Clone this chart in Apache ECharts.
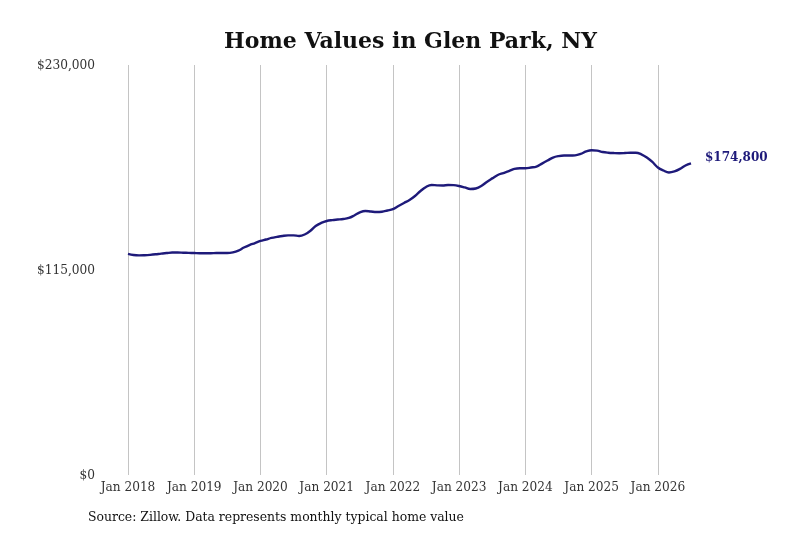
<!DOCTYPE html>
<html>
<head>
<meta charset="utf-8">
<script src="https://cdn.jsdelivr.net/npm/echarts@6/dist/echarts.min.js"></script>
<style>
html,body{margin:0;padding:0;background:#fff;}
#chart{width:800px;height:533px;}
</style>
</head>
<body>
<div id="chart"></div>
<script>
// Monthly typical home value (thousands of dollars), Jan 2018 .. Jul 2026
const years = [2018, 2019, 2020, 2021, 2022, 2023, 2024, 2025, 2026];
const values2018 = [124.0, 123.4, 123.2, 123.3, 123.5, 123.8, 124.2, 124.5, 124.8, 124.8, 124.7, 124.6];
const values2019 = [124.5, 124.4, 124.4, 124.4, 124.5, 124.5, 124.5, 124.9, 125.9, 127.6, 129.0, 130.1];
const values2020 = [131.3, 132.1, 133.0, 133.6, 134.1, 134.4, 134.4, 134.1, 134.9, 136.9, 139.7, 141.4];
const values2021 = [142.5, 143.0, 143.3, 143.6, 144.2, 145.6, 147.3, 148.1, 147.8, 147.5, 147.7, 148.4];
const values2022 = [149.2, 150.9, 152.6, 154.3, 156.5, 159.3, 161.6, 162.7, 162.5, 162.4, 162.7, 162.6];
const values2023 = [162.1, 161.3, 160.4, 160.7, 162.1, 164.4, 166.4, 168.3, 169.4, 170.5, 171.7, 172.1];
const values2024 = [172.1, 172.5, 173.0, 174.7, 176.4, 178.1, 178.9, 179.2, 179.2, 179.3, 180.1, 181.5];
const values2025 = [182.2, 182.0, 181.2, 180.8, 180.6, 180.5, 180.6, 180.8, 180.8, 179.9, 178.1, 175.6];
const values2026 = [172.5, 170.8, 169.7, 170.3, 171.7, 173.6, 174.8];
const yTicks = [0, 115000, 230000];
const monthNames = ['Jan','Feb','Mar','Apr','May','Jun','Jul','Aug','Sep','Oct','Nov','Dec'];

const yearly = [values2018, values2019, values2020, values2021, values2022, values2023, values2024, values2025, values2026];
const categories = [];
const values = [];
yearly.forEach((arr, yi) => {
  arr.forEach((v, mi) => {
    categories.push(monthNames[mi] + ' ' + years[yi]);
    values.push(Math.round(v * 1000));
  });
});

const fmt = v => '$' + v.toLocaleString('en-US');
const serif = "'DejaVu Serif Condensed', 'DejaVu Serif', serif";
const isJan = (i) => i % 12 === 0;

const chart = echarts.init(document.getElementById('chart'), null, {renderer: 'canvas'});
chart.setOption({
  animation: false,
  backgroundColor: '#ffffff',
  title: {
    text: 'Home Values in Glen Park, NY',
    left: 219,
    top: 26,
    textStyle: {fontFamily: "'DejaVu Serif', serif", fontWeight: 'bold', fontSize: 22, color: '#111'}
  },
  grid: {left: 128, right: 109, top: 65, bottom: 58, containLabel: false},
  xAxis: {
    type: 'category',
    data: categories,
    boundaryGap: false,
    axisLine: {show: false},
    axisTick: {show: false},
    axisLabel: {
      interval: (i) => isJan(i),
      formatter: (v) => v,
      fontFamily: serif, fontSize: 13.5, color: '#333', margin: 5
    },
    splitLine: {show: true, interval: (i) => isJan(i), lineStyle: {color: '#c4c4c4', width: 1}}
  },
  yAxis: {
    type: 'value',
    min: 0, max: 230000, interval: 115000,
    axisLine: {show: false},
    axisTick: {show: false},
    splitLine: {show: false},
    axisLabel: {formatter: (v) => yTicks.includes(v) ? fmt(v) : '', fontFamily: serif, fontSize: 13.5, color: '#333', margin: 33}
  },
  series: [{
    type: 'line',
    data: values,
    smooth: 0.4,
    symbol: 'none',
    lineStyle: {color: '#1e1a7a', width: 2.4},
    endLabel: {
      show: true,
      formatter: (p) => fmt(p.value),
      fontFamily: "'DejaVu Serif', serif",
      fontWeight: 'bold',
      fontSize: 12,
      color: '#1e1a7a',
      distance: 14,
      offset: [0, -6]
    }
  }],
  graphic: [{
    type: 'text',
    left: 88,
    top: 510,
    style: {text: 'Source: Zillow. Data represents monthly typical home value', font: "13.8px 'DejaVu Serif Condensed', 'DejaVu Serif', serif", fill: '#111'}
  }]
});
</script>
</body>
</html>
